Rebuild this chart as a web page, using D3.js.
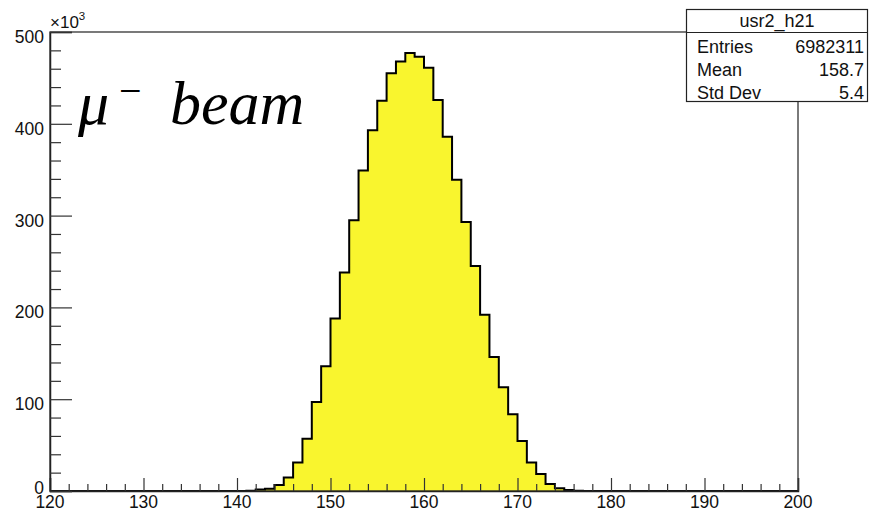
<!DOCTYPE html>
<html>
<head>
<meta charset="utf-8">
<script src="https://cdn.jsdelivr.net/npm/d3@7"></script>
<style>
  html, body { margin: 0; padding: 0; background: #fff; }
  svg { display: block; }
  text { font-family: "Liberation Sans", Arial, Helvetica, sans-serif; }
  text.serif { font-family: "Liberation Serif", "Times New Roman", serif; }
</style>
</head>
<body>
<svg id="chart" width="869" height="511"></svg>
<script>
// ---------------- data ----------------
const binLowEdges = d3.range(120, 200, 1);           // 80 bins of width 1, 120..200
const xDomain = [120, 200];
const yDomain = [0, 500];                            // in units of 10^3
// bin contents (x10^3), one per bin, starting at 120
const counts = [
  0,0,0,0,0,0,0,0,0,0,           // 120-129
  0,0,0,0,0,0,0,0,0,0,           // 130-139
  0,0.3,1.5,2.5,6.5,14.7,31,57,97,136,        // 140-149
  188,238,295,349,393,425,455,468,477,473,    // 150-159
  461,426,386,339,293,245,192,146,113,83.5,   // 160-169
  54.5,31,18.5,7.6,2.9,1.1,0.3,0,0,0,         // 170-179
  0,0,0,0,0,0,0,0,0,0,           // 180-189
  0,0,0,0,0,0,0,0,0,0            // 190-199
];
const xMajorTicks = [120, 130, 140, 150, 160, 170, 180, 190, 200];
const xTickLabels = ["120", "130", "140", "150", "160", "170", "180", "190", "200"];
const yMajorTicks = [0, 100, 200, 300, 400, 500];
const yTickLabels = ["0", "100", "200", "300", "400", "500"];
const statsTitle = "usr2_h21";
const statsNames = ["Entries", "Mean", "Std Dev"];
const statsValues = ["6982311", "158.7", "5.4"];

// ---------------- layout ----------------
const frame = { left: 50, right: 798, top: 32, bottom: 491 };
const svg = d3.select("#chart");

const x = d3.scaleLinear().domain(xDomain).range([frame.left, frame.right]);
const y = d3.scaleLinear().domain(yDomain).range([frame.bottom, frame.top]);

// ---------------- histogram ----------------
const pts = binLowEdges.map((lo, i) => [lo, counts[i]]);
pts.push([xDomain[1], counts[counts.length - 1]]);

const area = d3.area()
  .x(d => x(d[0])).y0(y(0)).y1(d => y(d[1]))
  .curve(d3.curveStepAfter);
const line = d3.line()
  .x(d => x(d[0])).y(d => y(d[1]))
  .curve(d3.curveStepAfter);

svg.append("path").datum(pts)
  .attr("d", area)
  .attr("fill", "#f9f52e");
svg.append("path").datum(pts)
  .attr("d", line)
  .attr("fill", "none")
  .attr("stroke", "#000")
  .attr("stroke-width", 2)
  .attr("stroke-linejoin", "miter");

// ---------------- frame ----------------
svg.append("rect")
  .attr("x", frame.left).attr("y", frame.top)
  .attr("width", frame.right - frame.left)
  .attr("height", frame.bottom - frame.top)
  .attr("fill", "none")
  .attr("stroke", "#222")
  .attr("stroke-width", 1.2);

// ---------------- x axis ----------------
const xMinor = d3.range(xDomain[0], xDomain[1] + 0.001, 2).filter(v => !xMajorTicks.includes(v));
svg.append("g")
  .attr("transform", `translate(0,${frame.bottom})`)
  .call(d3.axisBottom(x).tickValues(xMajorTicks).tickSize(-13).tickFormat(""))
  .call(g => g.select(".domain").attr("stroke", "#222").attr("stroke-width", 1.5))
  .call(g => g.selectAll(".tick line").attr("stroke", "#333").attr("stroke-width", 1.2));
svg.append("g")
  .attr("transform", `translate(0,${frame.bottom})`)
  .call(d3.axisBottom(x).tickValues(xMinor).tickSize(-7).tickFormat(""))
  .call(g => g.select(".domain").remove())
  .call(g => g.selectAll(".tick line").attr("stroke", "#333").attr("stroke-width", 1.2));

svg.append("g").selectAll("text")
  .data(xMajorTicks)
  .join("text")
  .attr("x", d => x(d))
  .attr("y", 508)
  .attr("text-anchor", "middle")
  .attr("font-size", 17.5)
  .attr("fill", "#111")
  .text((d, i) => xTickLabels[i]);

// ---------------- y axis ----------------
const yMinor = d3.range(yDomain[0], yDomain[1] + 0.001, 20).filter(v => !yMajorTicks.includes(v));
svg.append("g")
  .attr("transform", `translate(${frame.left},0)`)
  .call(d3.axisLeft(y).tickValues(yMajorTicks).tickSize(-22).tickFormat(""))
  .call(g => g.select(".domain").attr("stroke", "#222").attr("stroke-width", 1.5))
  .call(g => g.selectAll(".tick line").attr("stroke", "#333").attr("stroke-width", 1.2));
svg.append("g")
  .attr("transform", `translate(${frame.left},0)`)
  .call(d3.axisLeft(y).tickValues(yMinor).tickSize(-11).tickFormat(""))
  .call(g => g.select(".domain").remove())
  .call(g => g.selectAll(".tick line").attr("stroke", "#333").attr("stroke-width", 1.2));

svg.append("g").selectAll("text")
  .data(yMajorTicks)
  .join("text")
  .attr("x", 44)
  .attr("y", d => y(d) + (d === 0 ? 3 : 11))
  .attr("text-anchor", "end")
  .attr("font-size", 17.5)
  .attr("fill", "#111")
  .text((d, i) => yTickLabels[i]);

// exponent label ×10^3
const expo = svg.append("text")
  .attr("x", 50).attr("y", 28)
  .attr("font-size", 17)
  .attr("fill", "#111");
expo.append("tspan").text("\u00d710");
expo.append("tspan").attr("font-size", 11.5).attr("dy", -8).text("3");

// ---------------- annotation ----------------
const ann = svg.append("g").attr("fill", "#000");
ann.append("text").attr("class", "serif").attr("x", 78).attr("y", 124)
  .attr("font-size", 62).attr("font-style", "italic").text("\u03bc");
ann.append("text").attr("class", "serif").attr("x", 119).attr("y", 104)
  .attr("font-size", 40).text("\u2212");
ann.append("text").attr("class", "serif").attr("x", 170).attr("y", 124)
  .attr("font-size", 62).attr("font-style", "italic").text("beam");

// ---------------- stats box ----------------
const box = { x: 686.5, y: 9.5, w: 181, h: 92, sep: 32.5 };
svg.append("rect")
  .attr("x", box.x).attr("y", box.y).attr("width", box.w).attr("height", box.h)
  .attr("fill", "#fff").attr("stroke", "#222").attr("stroke-width", 1.2);
svg.append("line")
  .attr("x1", box.x).attr("x2", box.x + box.w)
  .attr("y1", box.sep).attr("y2", box.sep)
  .attr("stroke", "#222").attr("stroke-width", 1.2);
svg.append("text")
  .attr("x", box.x + box.w / 2).attr("y", 27)
  .attr("text-anchor", "middle").attr("font-size", 18).attr("fill", "#111")
  .text(statsTitle);
const rowBase = [54, 77, 100];
statsNames.forEach((n, i) => {
  svg.append("text").attr("x", 697).attr("y", rowBase[i] - 1)
    .attr("font-size", 18).attr("fill", "#111").text(n);
  svg.append("text").attr("x", 864).attr("y", rowBase[i] - 1)
    .attr("text-anchor", "end").attr("font-size", 18).attr("fill", "#111").text(statsValues[i]);
});
</script>
</body>
</html>
